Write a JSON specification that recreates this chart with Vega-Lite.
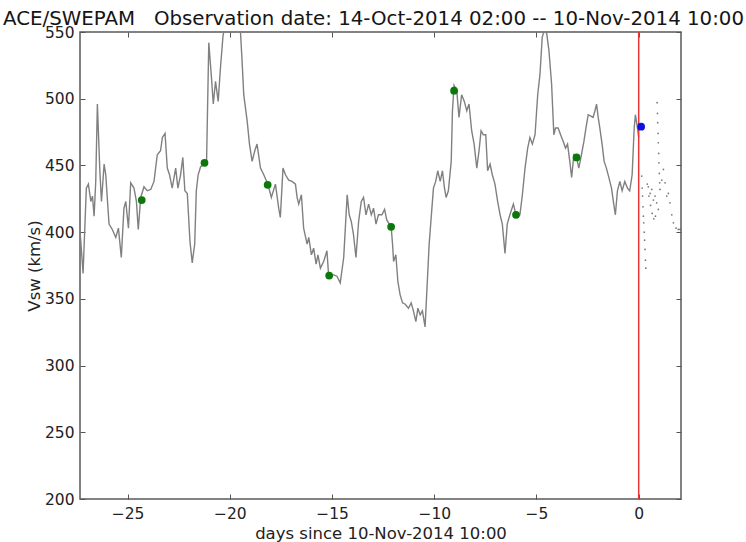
{
  "$schema": "https://vega.github.io/schema/vega-lite/v6.json",
  "width": 601,
  "height": 467,
  "autosize": {"type": "none"},
  "padding": {"left": 80, "top": 32, "right": 65, "bottom": 43},
  "background": "white",
  "title": {"text": "ACE/SWEPAM\u00a0\u00a0\u00a0Observation date: 14-Oct-2014 02:00 -- 10-Nov-2014 10:00", "font": "DejaVu Sans", "fontSize": 19.8, "fontWeight": "normal", "color": "#151515", "offset": -4, "dx": -7},
  "config": {"view": {"stroke": "#5a5a5a", "strokeWidth": 1.5}, "font": "DejaVu Sans"},
  "datasets": {
    "vsw": [
      {"day": -27.33, "vsw": 400}, {"day": -27.29, "vsw": 393}, {"day": -27.18, "vsw": 369}, {"day": -27.02, "vsw": 433}, {"day": -26.92, "vsw": 436}, {"day": -26.8, "vsw": 423}, {"day": -26.72, "vsw": 427}, {"day": -26.64, "vsw": 412}, {"day": -26.56, "vsw": 438}, {"day": -26.48, "vsw": 496}, {"day": -26.36, "vsw": 446}, {"day": -26.28, "vsw": 423}, {"day": -26.15, "vsw": 451}, {"day": -26.07, "vsw": 443}, {"day": -25.91, "vsw": 406}, {"day": -25.75, "vsw": 402}, {"day": -25.58, "vsw": 396}, {"day": -25.45, "vsw": 403}, {"day": -25.31, "vsw": 381}, {"day": -25.18, "vsw": 418}, {"day": -25.09, "vsw": 423}, {"day": -24.96, "vsw": 403}, {"day": -24.85, "vsw": 437}, {"day": -24.69, "vsw": 433}, {"day": -24.57, "vsw": 423}, {"day": -24.48, "vsw": 402}, {"day": -24.36, "vsw": 426}, {"day": -24.2, "vsw": 434}, {"day": -24.04, "vsw": 431}, {"day": -23.87, "vsw": 432}, {"day": -23.71, "vsw": 438}, {"day": -23.55, "vsw": 458}, {"day": -23.39, "vsw": 461}, {"day": -23.3, "vsw": 471}, {"day": -23.17, "vsw": 474}, {"day": -23.06, "vsw": 448}, {"day": -22.95, "vsw": 443}, {"day": -22.82, "vsw": 433}, {"day": -22.65, "vsw": 448}, {"day": -22.54, "vsw": 433}, {"day": -22.41, "vsw": 443}, {"day": -22.3, "vsw": 456}, {"day": -22.2, "vsw": 431}, {"day": -22.08, "vsw": 429}, {"day": -21.95, "vsw": 393}, {"day": -21.84, "vsw": 377}, {"day": -21.72, "vsw": 391}, {"day": -21.64, "vsw": 431}, {"day": -21.55, "vsw": 443}, {"day": -21.43, "vsw": 449}, {"day": -21.14, "vsw": 452}, {"day": -21.03, "vsw": 542}, {"day": -20.9, "vsw": 516}, {"day": -20.81, "vsw": 496}, {"day": -20.7, "vsw": 513}, {"day": -20.57, "vsw": 498}, {"day": -20.46, "vsw": 523}, {"day": -20.34, "vsw": 546}, {"day": -20.21, "vsw": 560}, {"day": -20.1, "vsw": 575}, {"day": -19.95, "vsw": 556}, {"day": -19.8, "vsw": 580}, {"day": -19.55, "vsw": 562},
      {"day": -19.48, "vsw": 550}, {"day": -19.4, "vsw": 528}, {"day": -19.32, "vsw": 503}, {"day": -19.15, "vsw": 483}, {"day": -19.04, "vsw": 466}, {"day": -18.91, "vsw": 453}, {"day": -18.78, "vsw": 461}, {"day": -18.67, "vsw": 466}, {"day": -18.5, "vsw": 448}, {"day": -18.34, "vsw": 443}, {"day": -18.14, "vsw": 436}, {"day": -17.97, "vsw": 426}, {"day": -17.77, "vsw": 436}, {"day": -17.61, "vsw": 418}, {"day": -17.53, "vsw": 411}, {"day": -17.4, "vsw": 448}, {"day": -17.28, "vsw": 443}, {"day": -17.12, "vsw": 439}, {"day": -16.96, "vsw": 438}, {"day": -16.79, "vsw": 436}, {"day": -16.71, "vsw": 426}, {"day": -16.63, "vsw": 421}, {"day": -16.5, "vsw": 428}, {"day": -16.39, "vsw": 403}, {"day": -16.22, "vsw": 391}, {"day": -16.14, "vsw": 396}, {"day": -16.01, "vsw": 383}, {"day": -15.9, "vsw": 388}, {"day": -15.78, "vsw": 376}, {"day": -15.69, "vsw": 383}, {"day": -15.57, "vsw": 373}, {"day": -15.41, "vsw": 378}, {"day": -15.25, "vsw": 386}, {"day": -15.17, "vsw": 368}, {"day": -14.92, "vsw": 368}, {"day": -14.76, "vsw": 367}, {"day": -14.6, "vsw": 362}, {"day": -14.43, "vsw": 381}, {"day": -14.35, "vsw": 403}, {"day": -14.26, "vsw": 428}, {"day": -14.16, "vsw": 413}, {"day": -14.06, "vsw": 408}, {"day": -13.95, "vsw": 398}, {"day": -13.83, "vsw": 381}, {"day": -13.7, "vsw": 408}, {"day": -13.57, "vsw": 423}, {"day": -13.46, "vsw": 426}, {"day": -13.34, "vsw": 413}, {"day": -13.21, "vsw": 421}, {"day": -13.08, "vsw": 413}, {"day": -12.97, "vsw": 418}, {"day": -12.85, "vsw": 406}, {"day": -12.73, "vsw": 413},
      {"day": -12.56, "vsw": 413}, {"day": -12.43, "vsw": 417}, {"day": -12.32, "vsw": 409}, {"day": -12.11, "vsw": 404}, {"day": -12.04, "vsw": 391}, {"day": -11.99, "vsw": 378}, {"day": -11.88, "vsw": 383}, {"day": -11.78, "vsw": 363}, {"day": -11.67, "vsw": 353}, {"day": -11.55, "vsw": 347}, {"day": -11.42, "vsw": 346}, {"day": -11.26, "vsw": 343}, {"day": -11.13, "vsw": 347}, {"day": -11.02, "vsw": 341}, {"day": -10.9, "vsw": 333}, {"day": -10.8, "vsw": 343}, {"day": -10.69, "vsw": 338}, {"day": -10.58, "vsw": 341}, {"day": -10.45, "vsw": 329}, {"day": -10.33, "vsw": 366}, {"day": -10.25, "vsw": 391}, {"day": -10.15, "vsw": 411}, {"day": -10.04, "vsw": 433}, {"day": -9.93, "vsw": 438}, {"day": -9.83, "vsw": 446}, {"day": -9.71, "vsw": 438}, {"day": -9.6, "vsw": 446}, {"day": -9.5, "vsw": 433}, {"day": -9.42, "vsw": 426}, {"day": -9.31, "vsw": 431}, {"day": -9.17, "vsw": 453}, {"day": -9.11, "vsw": 491}, {"day": -9.03, "vsw": 510}, {"day": -8.9, "vsw": 506}, {"day": -8.79, "vsw": 486}, {"day": -8.66, "vsw": 503}, {"day": -8.53, "vsw": 498}, {"day": -8.41, "vsw": 491}, {"day": -8.3, "vsw": 496}, {"day": -8.17, "vsw": 476}, {"day": -8.05, "vsw": 466}, {"day": -7.92, "vsw": 448}, {"day": -7.81, "vsw": 461}, {"day": -7.71, "vsw": 476}, {"day": -7.6, "vsw": 473}, {"day": -7.48, "vsw": 473}, {"day": -7.39, "vsw": 446}, {"day": -7.27, "vsw": 451}, {"day": -7.16, "vsw": 443}, {"day": -7.03, "vsw": 436}, {"day": -6.9, "vsw": 423}, {"day": -6.78, "vsw": 413}, {"day": -6.67, "vsw": 406}, {"day": -6.54, "vsw": 384}, {"day": -6.43, "vsw": 406}, {"day": -6.3, "vsw": 413}, {"day": -6.13, "vsw": 421}, {"day": -6.0, "vsw": 413}, {"day": -5.81, "vsw": 413}, {"day": -5.69, "vsw": 428}, {"day": -5.56, "vsw": 448}, {"day": -5.43, "vsw": 463},
      {"day": -5.32, "vsw": 471}, {"day": -5.2, "vsw": 466}, {"day": -5.07, "vsw": 473}, {"day": -4.94, "vsw": 503}, {"day": -4.83, "vsw": 518}, {"day": -4.72, "vsw": 546}, {"day": -4.62, "vsw": 551}, {"day": -4.5, "vsw": 549}, {"day": -4.39, "vsw": 536}, {"day": -4.26, "vsw": 511}, {"day": -4.15, "vsw": 473}, {"day": -4.07, "vsw": 478}, {"day": -3.94, "vsw": 478}, {"day": -3.82, "vsw": 473}, {"day": -3.69, "vsw": 468}, {"day": -3.58, "vsw": 463}, {"day": -3.48, "vsw": 466}, {"day": -3.37, "vsw": 453}, {"day": -3.28, "vsw": 441}, {"day": -3.17, "vsw": 458}, {"day": -3.04, "vsw": 456}, {"day": -2.93, "vsw": 448}, {"day": -2.8, "vsw": 458}, {"day": -2.68, "vsw": 468}, {"day": -2.58, "vsw": 478}, {"day": -2.47, "vsw": 488}, {"day": -2.34, "vsw": 487}, {"day": -2.23, "vsw": 486}, {"day": -2.14, "vsw": 491}, {"day": -2.06, "vsw": 496}, {"day": -1.98, "vsw": 486}, {"day": -1.9, "vsw": 478}, {"day": -1.79, "vsw": 466}, {"day": -1.69, "vsw": 453}, {"day": -1.58, "vsw": 448}, {"day": -1.46, "vsw": 441}, {"day": -1.33, "vsw": 433}, {"day": -1.22, "vsw": 421}, {"day": -1.14, "vsw": 413}, {"day": -1.04, "vsw": 431}, {"day": -0.92, "vsw": 438}, {"day": -0.81, "vsw": 431}, {"day": -0.68, "vsw": 438}, {"day": -0.55, "vsw": 433}, {"day": -0.44, "vsw": 431}, {"day": -0.32, "vsw": 443}, {"day": -0.22, "vsw": 478}, {"day": -0.16, "vsw": 488}, {"day": -0.06, "vsw": 478}, {"day": 0.0, "vsw": 471}
    ],
    "green": [
      {"day": -24.31, "vsw": 424}, {"day": -21.24, "vsw": 452}, {"day": -18.15, "vsw": 435.5}, {"day": -15.14, "vsw": 367.5}, {"day": -12.11, "vsw": 404}, {"day": -9.03, "vsw": 506}, {"day": -6.0, "vsw": 413}, {"day": -3.04, "vsw": 456}
    ],
    "blue": [{"day": 0.12, "vsw": 479}],
    "now": [{"day": 0}],
    "pred": [
      {"day": 0.15, "vsw": 442}, {"day": 0.17, "vsw": 433}, {"day": 0.19, "vsw": 427}, {"day": 0.21, "vsw": 419}, {"day": 0.23, "vsw": 412}, {"day": 0.25, "vsw": 407}, {"day": 0.27, "vsw": 400}, {"day": 0.29, "vsw": 394}, {"day": 0.31, "vsw": 387}, {"day": 0.33, "vsw": 379}, {"day": 0.35, "vsw": 373},
      {"day": 0.9, "vsw": 497}, {"day": 0.92, "vsw": 489}, {"day": 0.93, "vsw": 482}, {"day": 0.95, "vsw": 474}, {"day": 0.96, "vsw": 467}, {"day": 0.98, "vsw": 459}, {"day": 0.99, "vsw": 452}, {"day": 1.01, "vsw": 444}, {"day": 1.03, "vsw": 437},
      {"day": 0.47, "vsw": 434}, {"day": 0.56, "vsw": 429}, {"day": 0.64, "vsw": 432}, {"day": 0.72, "vsw": 424}, {"day": 0.8, "vsw": 427}, {"day": 0.88, "vsw": 422}, {"day": 0.96, "vsw": 417}, {"day": 1.04, "vsw": 432}, {"day": 1.13, "vsw": 439}, {"day": 1.21, "vsw": 447}, {"day": 1.29, "vsw": 437}, {"day": 1.37, "vsw": 427}, {"day": 1.45, "vsw": 429}, {"day": 1.53, "vsw": 422}, {"day": 1.62, "vsw": 413}, {"day": 1.7, "vsw": 407}, {"day": 1.83, "vsw": 403}, {"day": 1.94, "vsw": 402}, {"day": 2.02, "vsw": 402},
      {"day": 0.42, "vsw": 436}, {"day": 0.5, "vsw": 427}, {"day": 0.58, "vsw": 420}, {"day": 0.66, "vsw": 414}, {"day": 0.74, "vsw": 410}, {"day": 0.82, "vsw": 412}
    ]
  },
  "layer": [
    {
      "data": {"name": "vsw"},
      "mark": {"type": "line", "color": "#808080", "strokeWidth": 1.4, "clip": true},
      "encoding": {
        "x": {"field": "day", "type": "quantitative", "scale": {"domain": [-27.33, 2.07], "nice": false, "zero": false},
          "axis": {"orient": "bottom", "values": [-25, -20, -15, -10, -5, 0], "tickSize": -5, "tickColor": "#555", "tickWidth": 1, "domain": false, "grid": false, "labelPadding": 12, "labelFontSize": 15.5, "labelColor": "#222", "title": "days since 10-Nov-2014 10:00", "titleFontSize": 16.5, "titleFontWeight": "normal", "titleColor": "#222", "titlePadding": 4}},
        "y": {"field": "vsw", "type": "quantitative", "scale": {"domain": [200, 550], "nice": false, "zero": false},
          "axis": {"orient": "left", "values": [200, 250, 300, 350, 400, 450, 500, 550], "tickSize": -5, "tickColor": "#555", "tickWidth": 1, "domain": false, "grid": false, "labelPadding": 11, "labelFontSize": 15.5, "labelColor": "#222", "title": "Vsw (km/s)", "titleFontSize": 16.5, "titleFontWeight": "normal", "titleColor": "#222", "titlePadding": 2}}
      }
    },
    {
      "data": {"name": "now"},
      "mark": {"type": "rule", "color": "#e83535", "strokeWidth": 1.5},
      "encoding": {"x": {"field": "day", "type": "quantitative", "axis": null}}
    },
    {
      "data": {"name": "pred"},
      "mark": {"type": "circle", "color": "#555", "size": 3, "opacity": 0.8},
      "encoding": {"x": {"field": "day", "type": "quantitative", "axis": null}, "y": {"field": "vsw", "type": "quantitative", "axis": null}}
    },
    {
      "data": {"name": "green"},
      "mark": {"type": "circle", "color": "#0b780b", "size": 60, "opacity": 1},
      "encoding": {
        "x": {"field": "day", "type": "quantitative", "axis": {"orient": "top", "values": [-25, -20, -15, -10, -5, 0], "labels": false, "title": null, "tickSize": -5, "tickColor": "#555", "domain": false, "grid": false}},
        "y": {"field": "vsw", "type": "quantitative", "axis": {"orient": "right", "values": [200, 250, 300, 350, 400, 450, 500, 550], "labels": false, "title": null, "tickSize": -5, "tickColor": "#555", "domain": false, "grid": false}}
      }
    },
    {
      "data": {"name": "blue"},
      "mark": {"type": "circle", "color": "#1010e0", "size": 60, "opacity": 1},
      "encoding": {"x": {"field": "day", "type": "quantitative", "axis": null}, "y": {"field": "vsw", "type": "quantitative", "axis": null}}
    }
  ],
  "resolve": {"axis": {"x": "independent", "y": "independent"}}
}
